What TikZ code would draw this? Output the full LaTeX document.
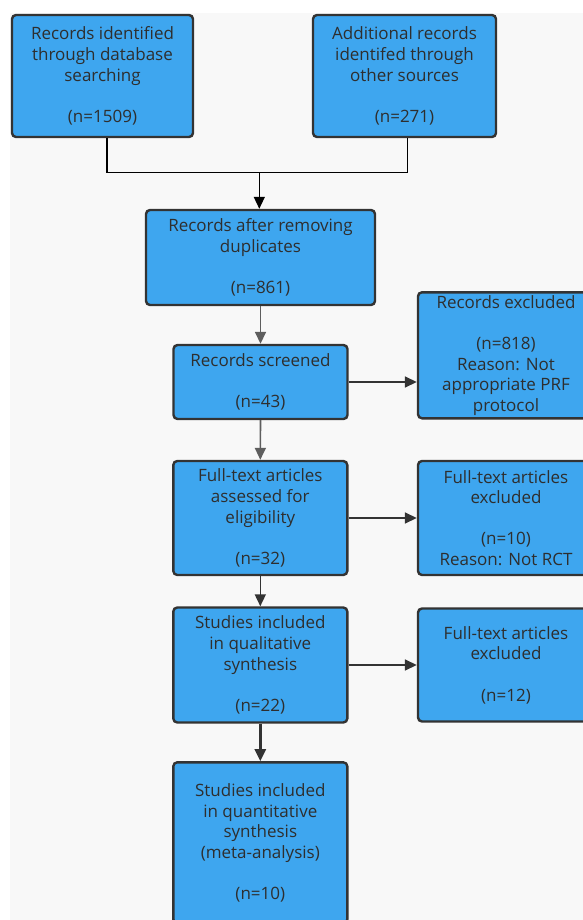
\documentclass[tikz,border=0pt]{standalone}
\usepackage{fontspec}
\setmainfont{Open Sans}
\usetikzlibrary{arrows.meta}
\definecolor{boxblue}{HTML}{3EA6EF}
\definecolor{boxline}{HTML}{333333}
\definecolor{txtcol}{HTML}{2E2E2E}
\definecolor{panel}{HTML}{F8F8F8}
\definecolor{graylink}{HTML}{5E5E5E}
\tikzset{
  box/.style={draw=boxline, fill=boxblue, line width=2.4pt, rounded corners=4pt, inner sep=0pt},
  txt/.style={text=txtcol, align=center, font=\fontsize{17}{20.6}\selectfont, inner sep=0pt},
  tip/.style={-{Triangle[length=12pt,width=11pt]}},
  link/.style={line width=1.4pt, draw=black},
  glink/.style={tip, line width=1.6pt, draw=graylink, graylink},
  dlink/.style={tip, line width=1.6pt, draw=boxline, boxline},
  tlink/.style={tip, line width=2.6pt, draw=boxline, boxline},
}
\begin{document}
\begin{tikzpicture}[x=1pt,y=-1pt]
\useasboundingbox (0,0) rectangle (583,920);
\clip (0,0) rectangle (583,920);
\fill[white] (0,0) rectangle (583,920);
\fill[panel] (10,13) rectangle (583,920);

% boxes
\node[box, minimum width=181pt, minimum height=122pt] (b1) at (102.5,76) {};
\node[box, minimum width=183pt, minimum height=122pt] (b2) at (404.5,76) {};
\node[box, minimum width=229pt, minimum height=95pt] (b3) at (260.5,257.5) {};
\node[box, minimum width=174pt, minimum height=74pt] (b4) at (260.5,382) {};
\node[box, minimum width=176pt, minimum height=126pt] (b5) at (506,355.3) {};
\node[box, minimum width=174pt, minimum height=114pt] (b6) at (260.3,518) {};
\node[box, minimum width=176pt, minimum height=114pt] (b7) at (506,518) {};
\node[box, minimum width=174pt, minimum height=115pt] (b8) at (260.3,665) {};
\node[box, minimum width=176pt, minimum height=113pt] (b9) at (506,665) {};
\node[box, minimum width=174pt, minimum height=161pt] (b10) at (260.3,842.8) {};

% texts
\node[txt] (t1) at (b1) {Records identified\\through database\\searching\\[20.6pt](n=1509)};
\node[txt] (t2) at (b2) {Additional records\\identifed through\\other sources\\[20.6pt](n=271)};
\node[txt] (t3) at (b3) {Records after removing\\duplicates\\[20.6pt](n=861)};
\node[txt] (t4) at (b4) {Records screened\\[20.6pt](n=43)};
\node[txt] (t5) at (b5) {Records excluded\\[20.6pt](n=818)\\Reason: Not\\appropriate PRF\\protocol};
\node[txt] (t6) at (b6) {Full-text articles\\assessed for\\eligibility\\[20.6pt](n=32)};
\node[txt] (t7) at (b7) {Full-text articles\\excluded\\[20.6pt](n=10)\\Reason: Not RCT};
\node[txt] (t8) at (b8) {Studies included\\in qualitative\\synthesis\\[20.6pt](n=22)};
\node[txt] (t9) at (b9) {Full-text articles\\excluded\\[20.6pt](n=12)};
\node[txt] (t10) at (b10) {Studies included\\in quantitative\\synthesis\\(meta-analysis)\\[20.6pt](n=10)};

% connectors
\coordinate (j) at (259.3,172.3);
\draw[link] ([xshift=4.5pt]b1.south) |- (j);
\draw[link] ([xshift=3.2pt]b2.south) |- (j);
\draw[link, tip] (j) -- (j |- b3.north);
\draw[glink] (b3.south) -- (b4.north);
\draw[dlink] (b4.east) -- (b4.east -| b5.west);
\draw[glink] (b4.south) -- (b6.north);
\draw[dlink] (b6.east) -- (b6.east -| b7.west);
\draw[dlink] (b6.south) -- (b8.north);
\draw[dlink] (b8.east) -- (b8.east -| b9.west);
\draw[tlink] (b8.south) -- (b10.north);
\end{tikzpicture}
\end{document}
